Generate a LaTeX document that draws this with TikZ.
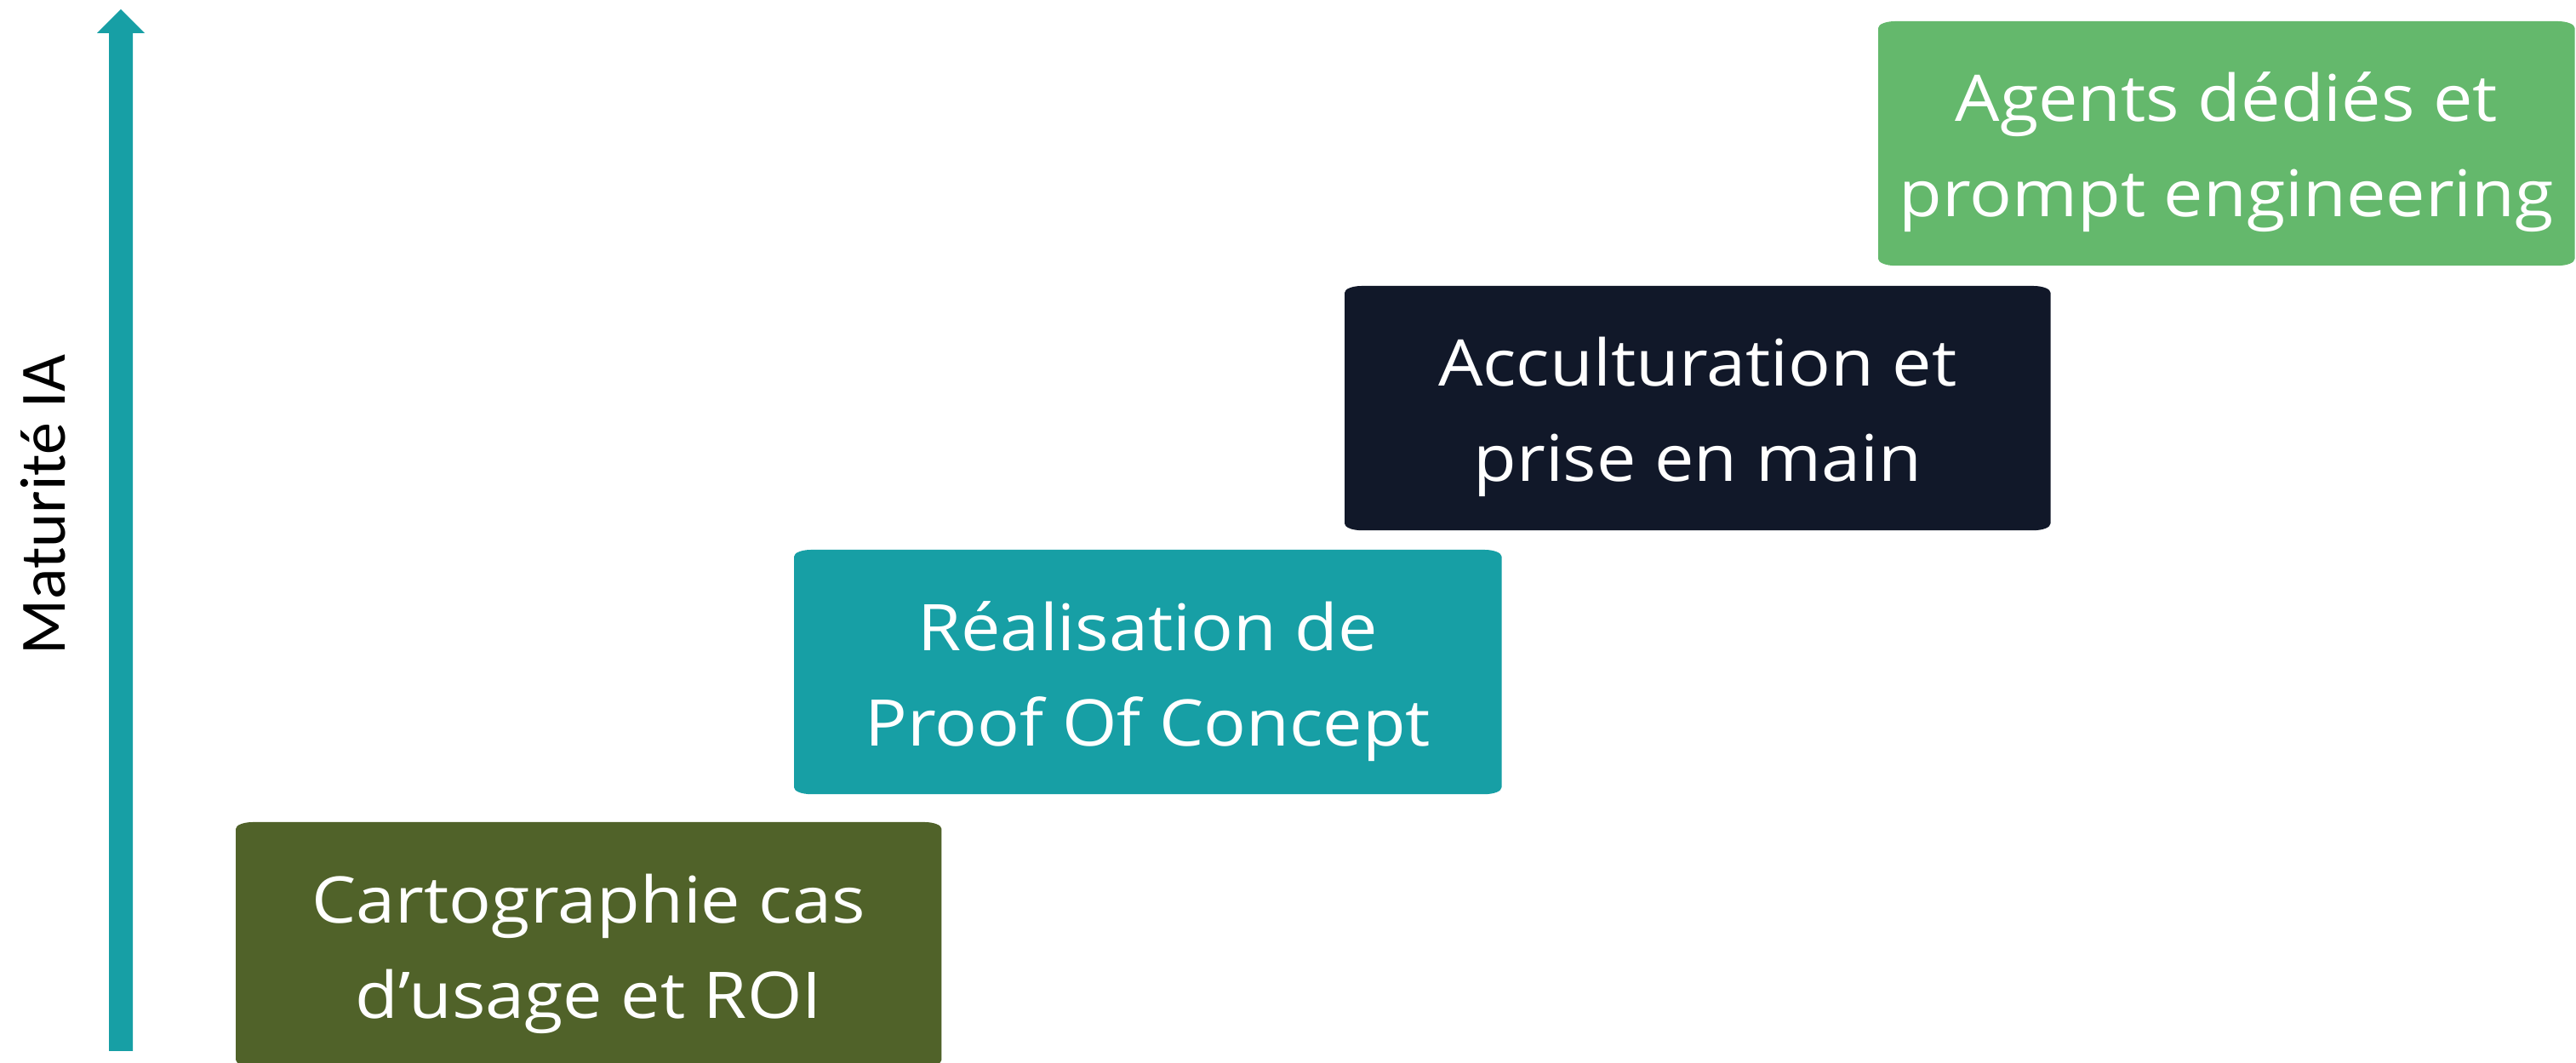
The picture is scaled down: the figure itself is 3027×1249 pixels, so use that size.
\documentclass[tikz,border=0pt]{standalone}
\usepackage{fontspec}
\setmainfont[FakeStretch=1.095]{Open Sans}
\newfontfamily\labfont{Carlito}
\usetikzlibrary{calc}
\definecolor{cOlive}{HTML}{506229}
\definecolor{cTeal}{HTML}{179FA5}
\definecolor{cNavy}{HTML}{111829}
\definecolor{cGreen}{HTML}{64B86C}
\newcommand\roundbox[2]{%
  \fill[#2] ([xshift=2mm]#1.north west) -- ([xshift=-2mm]#1.north east)
    arc[start angle=90,end angle=0,x radius=2mm,y radius=0.8mm]
    -- ([yshift=0.8mm]#1.south east)
    arc[start angle=0,end angle=-90,x radius=2mm,y radius=0.8mm]
    -- ([xshift=2mm]#1.south west)
    arc[start angle=270,end angle=180,x radius=2mm,y radius=0.8mm]
    -- ([yshift=-0.8mm]#1.north west)
    arc[start angle=180,end angle=90,x radius=2mm,y radius=0.8mm] -- cycle;}
\begin{document}
\begin{tikzpicture}[x=0.01cm,y=0.01cm,
  boxshape/.style={rectangle,inner sep=0pt,outer sep=0pt,minimum width=8.29cm,minimum height=2.87cm,anchor=north west},
  lbl/.style={anchor=base,inner sep=0pt,text=white,font=\fontsize{21.5}{26}\selectfont},
  axislbl/.style={rotate=90,anchor=base,inner sep=0pt,text=black,font=\labfont\fontsize{21.6}{26}\selectfont}]
\useasboundingbox (0,0) rectangle (3027,1249);
\clip (0,0) rectangle (3027,1249);
% axis arrow
\fill[cTeal] (128,14) -- (156,14) -- (156,1210) -- (170,1210) -- (142,1238) -- (114,1210) -- (128,1210) -- cycle;
\node[axislbl] (axis) at (77,656) {Maturité IA};
% boxes
\node[boxshape] (b1) at (277,283) {};
\node[boxshape,minimum width=8.31cm] (b2) at (933,603) {};
\node[boxshape] (b3) at (1580,913) {};
\node[boxshape,minimum width=8.18cm] (b4) at (2207,1224) {};
\roundbox{b1}{cOlive}
\roundbox{b2}{cTeal}
\roundbox{b3}{cNavy}
\roundbox{b4}{cGreen}
% texts
\node[lbl] (t1a) at ($(b1.north)+(0,-119)$) {Cartographie cas};
\node[lbl] (t1b) at ($(b1.north)+(0,-231)$) {d’usage et ROI};
\node[lbl] (t2a) at ($(b2.north)+(0,-119)$) {Réalisation de};
\node[lbl] (t2b) at ($(b2.north)+(0,-231)$) {Proof Of Concept};
\node[lbl] (t3a) at ($(b3.north)+(0,-118)$) {Acculturation et};
\node[lbl] (t3b) at ($(b3.north)+(0,-230)$) {prise en main};
\node[lbl] (t4a) at ($(b4.north)+(0,-118)$) {Agents dédiés et};
\node[lbl] (t4b) at ($(b4.north)+(0,-230)$) {prompt engineering};
\end{tikzpicture}
\end{document}
